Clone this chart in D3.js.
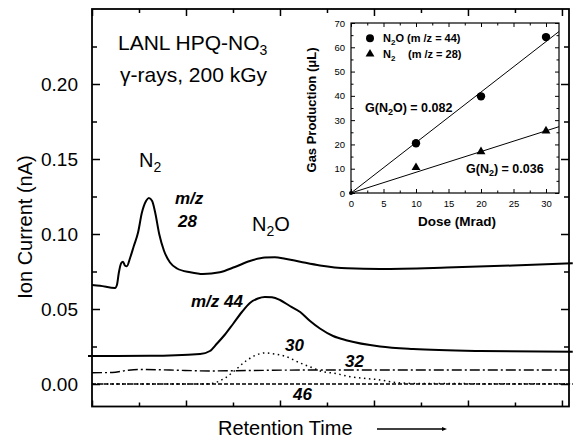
<!DOCTYPE html>
<html>
<head>
<meta charset="utf-8">
<script src="https://cdn.jsdelivr.net/npm/d3@7"></script>
<style>
  body { margin: 0; background: #fff; }
  svg { display: block; font-family: "Liberation Sans", Arial, Helvetica, sans-serif; }
</style>
</head>
<body>
<div id="chart"></div>
<script>
// chromatogram traces: [retention time (tick units), ion current (nA)]
var trace28 = [[0, 0.066], [0.17, 0.0655], [0.49, 0.064], [0.53, 0.066], [0.57, 0.074], [0.62, 0.0805],
  [0.66, 0.0815], [0.70, 0.079], [0.74, 0.0785], [0.81, 0.084], [0.89, 0.092], [0.98, 0.101],
  [1.06, 0.114], [1.15, 0.122], [1.21, 0.124], [1.28, 0.122], [1.34, 0.115], [1.43, 0.100],
  [1.53, 0.089], [1.66, 0.081], [1.81, 0.077], [2.09, 0.0745], [2.36, 0.0733], [2.72, 0.0745],
  [3.04, 0.078], [3.36, 0.082], [3.68, 0.0843], [3.89, 0.0845], [4.11, 0.0835], [4.43, 0.0815],
  [4.85, 0.079], [5.43, 0.0771], [6.13, 0.0767], [7.55, 0.0776], [8.96, 0.079], [10.23, 0.0805]];
var trace44 = [[-0.085, 0.0187], [1.23, 0.0188], [2.30, 0.020], [2.51, 0.022], [2.66, 0.027],
  [2.83, 0.033], [3.00, 0.040], [3.19, 0.048], [3.36, 0.054], [3.53, 0.057], [3.68, 0.058],
  [3.83, 0.0578], [4.00, 0.056], [4.21, 0.052], [4.43, 0.048], [4.64, 0.042], [4.85, 0.037],
  [5.13, 0.032], [5.43, 0.029], [6.13, 0.025], [6.83, 0.0233], [8.26, 0.022], [10.23, 0.0215]];
var trace32 = [[0, 0.0075], [0.43, 0.0077], [0.77, 0.0092], [1.02, 0.0097], [1.66, 0.0093],
  [2.51, 0.0087], [3.36, 0.009], [4.43, 0.0093], [10.23, 0.0093]];
var trace30 = [[0, 0], [2.40, 0], [2.57, 0.0005], [2.83, 0.004], [3.04, 0.009], [3.26, 0.015],
  [3.47, 0.019], [3.68, 0.0207], [3.89, 0.020], [4.11, 0.0185], [4.43, 0.014], [4.70, 0.0107],
  [4.91, 0.0082], [5.13, 0.0073], [5.49, 0.0049], [6.13, 0.0027], [6.49, 0.0009], [6.98, 0.0003],
  [10.23, 0.0002]];
var trace46 = [[0, 0], [10.23, 0]];

var ionTicks = [0, 0.05, 0.10, 0.15, 0.20];
var ionMinorTicks = [0.025, 0.075, 0.125, 0.175, 0.225];
var timeTicks = [0, 2, 4, 6, 8, 10];
var timeMinorTicks = [1, 3, 5, 7, 9];

// inset: gas production vs dose
var doseTicks = [0, 5, 10, 15, 20, 25, 30];
var doseMinorTicks = [2.5, 7.5, 12.5, 17.5, 22.5, 27.5];
var gasTicks = [0, 10, 20, 30, 40, 50, 60, 70];
var gasMinorTicks = [5, 15, 25, 35, 45, 55, 65];
var doses = [10, 20, 30];
var n2oGas = [20.5, 39.8, 64.2];
var n2Gas = [10.5, 17, 25.6];
var n2oFit = [[0, 0], [32, 66.5]];
var n2Fit = [[0, 0], [32, 27.3]];

var width = 576, height = 441;
var svg = d3.select("#chart").append("svg")
  .attr("width", width)
  .attr("height", height);

var x = d3.scaleLinear().domain([0, 10.15]).range([92, 569]);
var y = d3.scaleLinear().domain([-0.015, 0.25]).range([406.5, 9]);

function drawAxis(axis, transform) {
  var g = svg.append("g").attr("transform", transform).call(axis);
  g.select(".domain").remove();
  g.selectAll("line").attr("stroke", "#000").attr("stroke-width", 1.5);
  return g;
}

// main axes (ticks point inward)
var leftMajor = drawAxis(d3.axisLeft(y).tickValues(ionTicks).tickSize(-8).tickPadding(14)
  .tickFormat(d3.format(".2f")), "translate(" + x.range()[0] + ",0)");
leftMajor.selectAll("text").attr("font-size", 19).attr("fill", "#000")
  .attr("font-family", "Liberation Sans, Arial, sans-serif");
drawAxis(d3.axisLeft(y).tickValues(ionMinorTicks).tickSize(-5).tickFormat(""), "translate(" + x.range()[0] + ",0)");
drawAxis(d3.axisRight(y).tickValues(ionTicks).tickSize(-8).tickFormat(""), "translate(" + x.range()[1] + ",0)");
drawAxis(d3.axisRight(y).tickValues(ionMinorTicks).tickSize(-5).tickFormat(""), "translate(" + x.range()[1] + ",0)");
drawAxis(d3.axisTop(x).tickValues(timeTicks).tickSize(-7).tickFormat(""), "translate(0," + y.range()[1] + ")");
drawAxis(d3.axisTop(x).tickValues(timeMinorTicks).tickSize(-4).tickFormat(""), "translate(0," + y.range()[1] + ")");
drawAxis(d3.axisBottom(x).tickValues(timeTicks).tickSize(-6).tickFormat(""), "translate(0," + y.range()[0] + ")");
drawAxis(d3.axisBottom(x).tickValues(timeMinorTicks).tickSize(-4).tickFormat(""), "translate(0," + y.range()[0] + ")");

svg.append("rect")
  .attr("x", x.range()[0]).attr("y", y.range()[1])
  .attr("width", x.range()[1] - x.range()[0])
  .attr("height", y.range()[0] - y.range()[1])
  .attr("fill", "none").attr("stroke", "#000").attr("stroke-width", 1.8);

var line = d3.line()
  .x(function(d) { return x(d[0]); })
  .y(function(d) { return y(d[1]); })
  .curve(d3.curveMonotoneX);

function drawTrace(data, widthPx, dash) {
  svg.append("path")
    .datum(data)
    .attr("d", line)
    .attr("fill", "none")
    .attr("stroke", "#000")
    .attr("stroke-width", widthPx)
    .attr("stroke-dasharray", dash);
}
drawTrace(trace46, 1.3, "4,2");
drawTrace(trace30, 1.5, "1.5,3.5");
drawTrace(trace32, 1.4, "10,3,2,3");
drawTrace(trace44, 2, null);
drawTrace(trace28, 2, null);

// labels
function label(px, py, size, parts, opts) {
  var t = svg.append("text").attr("x", px).attr("y", py)
    .attr("font-size", size).attr("fill", "#000");
  if (opts && opts.bold) t.attr("font-weight", "bold");
  if (opts && opts.italic) t.attr("font-style", "italic");
  if (opts && opts.anchor) t.attr("text-anchor", opts.anchor);
  if (opts && opts.rotate) t.attr("transform", "rotate(-90," + px + "," + py + ")");
  parts.forEach(function(p) {
    if (typeof p === "string") {
      t.append("tspan").text(p);
    } else {
      t.append("tspan").attr("font-size", p.size).attr("dy", p.dy)
        .attr("dx", p.dx || 0).text(p.text);
      if (p.back) t.append("tspan").attr("dy", -p.dy).text(p.back);
    }
  });
  return t;
}

label(118, 50, 21, ["LANL HPQ-NO", {text: "3", size: 14, dy: 5}]);
label(120, 82, 21, ["\u03b3-rays, 200 kGy"]);
label(139, 167, 20, ["N", {text: "2", size: 14, dy: 5}]);
label(252, 231, 20, ["N", {text: "2", size: 14, dy: 5, back: "O"}]);
label(175, 204, 17, ["m/z"], {bold: true, italic: true});
label(178, 227, 17, ["28"], {bold: true, italic: true});
label(191, 307, 17, ["m/z 44"], {bold: true, italic: true});
label(285, 351, 17, ["30"], {bold: true, italic: true});
label(345, 367, 17, ["32"], {bold: true, italic: true});
label(293, 400, 17, ["46"], {bold: true, italic: true});
label(218, 435, 20, ["Retention Time"]);
label(32, 227, 20, ["Ion Current (nA)"], {anchor: "middle", rotate: true});

svg.append("defs").append("marker")
  .attr("id", "arrow").attr("viewBox", "0 0 10 10")
  .attr("refX", 0).attr("refY", 5)
  .attr("markerWidth", 6).attr("markerHeight", 5)
  .attr("markerUnits", "userSpaceOnUse")
  .attr("orient", "auto")
  .append("path").attr("d", "M0,1L10,5L0,9Z").attr("fill", "#000");
svg.append("line")
  .attr("x1", 377).attr("y1", 429).attr("x2", 442).attr("y2", 429)
  .attr("stroke", "#000").attr("stroke-width", 1.3)
  .attr("marker-end", "url(#arrow)");

// inset
var ix = d3.scaleLinear().domain([0, 32]).range([351, 559]);
var iy = d3.scaleLinear().domain([0, 70]).range([193, 23]);

svg.append("rect")
  .attr("x", ix.range()[0]).attr("y", iy.range()[1])
  .attr("width", ix.range()[1] - ix.range()[0])
  .attr("height", iy.range()[0] - iy.range()[1])
  .attr("fill", "#fff");

function drawInsetAxis(axis, transform, size) {
  var g = svg.append("g").attr("transform", transform).call(axis);
  g.select(".domain").remove();
  g.selectAll("line").attr("stroke", "#000").attr("stroke-width", 1);
  g.selectAll("text").attr("font-size", size || 9.5).attr("fill", "#000")
    .attr("font-family", "Liberation Sans, Arial, sans-serif");
  return g;
}
drawInsetAxis(d3.axisBottom(ix).tickValues(doseTicks).tickSize(-4).tickPadding(7), "translate(0," + iy.range()[0] + ")");
drawInsetAxis(d3.axisBottom(ix).tickValues(doseMinorTicks).tickSize(-2.5).tickFormat(""), "translate(0," + iy.range()[0] + ")");
drawInsetAxis(d3.axisTop(ix).tickValues(doseTicks).tickSize(-4).tickFormat(""), "translate(0," + iy.range()[1] + ")");
drawInsetAxis(d3.axisTop(ix).tickValues(doseMinorTicks).tickSize(-2.5).tickFormat(""), "translate(0," + iy.range()[1] + ")");
drawInsetAxis(d3.axisLeft(iy).tickValues(gasTicks).tickSize(-4).tickPadding(6), "translate(" + ix.range()[0] + ",0)");
drawInsetAxis(d3.axisLeft(iy).tickValues(gasMinorTicks).tickSize(-2.5).tickFormat(""), "translate(" + ix.range()[0] + ",0)");
drawInsetAxis(d3.axisRight(iy).tickValues(gasTicks).tickSize(-4).tickFormat(""), "translate(" + ix.range()[1] + ",0)");
drawInsetAxis(d3.axisRight(iy).tickValues(gasMinorTicks).tickSize(-2.5).tickFormat(""), "translate(" + ix.range()[1] + ",0)");

svg.append("rect")
  .attr("x", ix.range()[0]).attr("y", iy.range()[1])
  .attr("width", ix.range()[1] - ix.range()[0])
  .attr("height", iy.range()[0] - iy.range()[1])
  .attr("fill", "none").attr("stroke", "#000").attr("stroke-width", 1.2);

var fitLine = d3.line()
  .x(function(d) { return ix(d[0]); })
  .y(function(d) { return iy(d[1]); });
[n2oFit, n2Fit].forEach(function(f) {
  svg.append("path").datum(f).attr("d", fitLine)
    .attr("fill", "none").attr("stroke", "#000").attr("stroke-width", 1);
});

svg.append("circle").attr("cx", ix(0)).attr("cy", iy(0)).attr("r", 2).attr("fill", "#000");
svg.selectAll("circle.n2o").data(doses).enter().append("circle")
  .attr("class", "n2o")
  .attr("cx", function(d) { return ix(d); })
  .attr("cy", function(d, i) { return iy(n2oGas[i]); })
  .attr("r", 4.2).attr("fill", "#000");
var triangle = d3.symbol().type(d3.symbolTriangle).size(34);
svg.selectAll("path.n2").data(doses).enter().append("path")
  .attr("class", "n2")
  .attr("d", triangle)
  .attr("transform", function(d, i) { return "translate(" + ix(d) + "," + iy(n2Gas[i]) + ")"; })
  .attr("fill", "#000");

// inset legend
svg.append("circle").attr("cx", 370).attr("cy", 38.3).attr("r", 4).attr("fill", "#000");
svg.append("path").attr("d", triangle).attr("transform", "translate(370,54)").attr("fill", "#000");
label(383, 42, 11, ["N", {text: "2", size: 8, dy: 3, back: "O (m /z = 44)"}], {bold: true});
label(383, 57.5, 11, ["N", {text: "2", size: 8, dy: 3}], {bold: true});
label(408, 57.5, 11, ["(m /z = 28)"], {bold: true});

label(365, 112, 12.5, ["G(N", {text: "2", size: 9, dy: 3, back: "O) = 0.082"}], {bold: true});
label(466, 173, 12.5, ["G(N", {text: "2", size: 9, dy: 3, back: ") = 0.036"}], {bold: true});
label(457, 226, 13.5, ["Dose (Mrad)"], {bold: true, anchor: "middle"});
label(316, 110, 13, ["Gas Production  (\u03bcL)"], {bold: true, anchor: "middle", rotate: true});
</script>
</body>
</html>
